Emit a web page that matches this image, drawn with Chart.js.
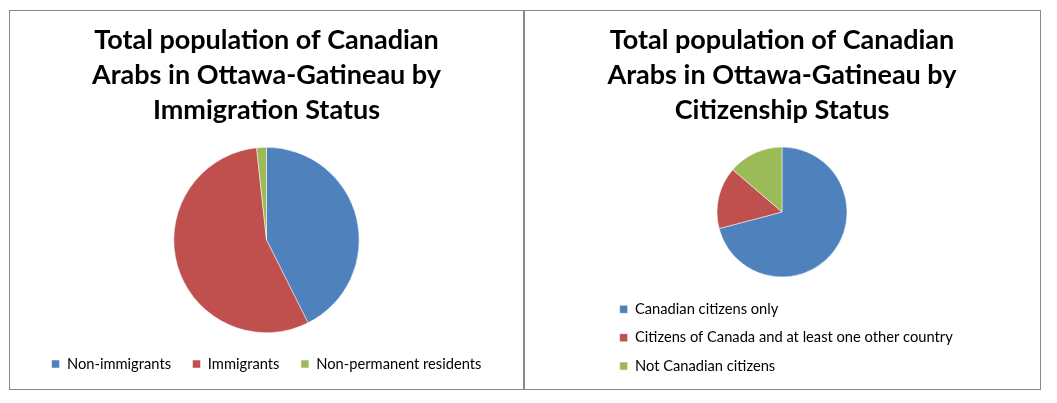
<!DOCTYPE html>
<html>
<head>
<meta charset="utf-8">
<title>Canadian Arabs in Ottawa-Gatineau</title>
<script src="https://cdn.jsdelivr.net/npm/chart.js@4.4.0/dist/chart.umd.min.js"></script>
<style>
  html, body { margin: 0; padding: 0; background: #fff; }
  .box {
    position: absolute;
    top: 10px;
    height: 378px;
    border: 1px solid #888;
  }
  #leftBox { left: 9px; width: 513px; }
  #rightBox { left: 524px; width: 515px; }
  canvas { display: block; }
</style>
</head>
<body>
<div class="box" id="leftBox"><canvas id="immigrationChart" width="513" height="378"></canvas></div>
<div class="box" id="rightBox"><canvas id="citizenshipChart" width="515" height="378"></canvas></div>
<script>
// Dados: estatuto de imigração
const immigrationLabels = ['Non-immigrants', 'Immigrants', 'Non-permanent residents'];
const immigrationValues = [42.6, 55.7, 1.7];

// Dados: cidadania
const citizenshipLabels = ['Canadian citizens only', 'Citizens of Canada and at least one other country', 'Not Canadian citizens'];
const citizenshipValues = [70.9, 15.4, 13.7];

const immigrationTitle = ['Total population of Canadian', 'Arabs in Ottawa-Gatineau by', 'Immigration Status'];
const citizenshipTitle = ['Total population of Canadian', 'Arabs in Ottawa-Gatineau by', 'Citizenship Status'];

const sliceColors = ['#4F81BD', '#C0504D', '#9BBB59'];

Chart.defaults.font.family = 'Lato, "Open Sans", sans-serif';
Chart.defaults.color = '#000';
Chart.defaults.animation = false;

function titleOptions(text, bottom) {
    return {
        display: true,
        text: text,
        color: '#000',
        font: { size: 27, weight: 'bold', lineHeight: 1.3 },
        padding: { top: 12, bottom: bottom }
    };
}

// Gráfico da esquerda
const immigrationConfig = {
    type: 'pie',
    data: {
        labels: immigrationLabels,
        datasets: [{
            data: immigrationValues,
            backgroundColor: sliceColors,
            borderColor: '#fff',
            borderWidth: 0.5,
            hoverOffset: 0,
            radius: 92.7
        }]
    },
    options: {
        responsive: false,
        layout: { padding: { top: 0, bottom: 7.6, left: 0, right: 0 } },
        plugins: {
            title: titleOptions(immigrationTitle, 16.5),
            tooltip: { enabled: false },
            legend: {
                position: 'bottom',
                labels: {
                    boxWidth: 8,
                    boxHeight: 8,
                    padding: 21.5,
                    font: { size: 14.7 }
                }
            }
        }
    }
};

// Gráfico da direita
const citizenshipConfig = {
    type: 'pie',
    data: {
        labels: citizenshipLabels,
        datasets: [{
            data: citizenshipValues,
            backgroundColor: sliceColors,
            borderColor: '#fff',
            borderWidth: 0.5,
            hoverOffset: 0,
            radius: 65
        }]
    },
    options: {
        responsive: false,
        layout: { padding: { top: 0, bottom: 5.6, left: 81, right: 82 } },
        plugins: {
            title: titleOptions(citizenshipTitle, 7.4),
            tooltip: { enabled: false },
            legend: {
                position: 'bottom',
                align: 'start',
                labels: {
                    boxWidth: 8,
                    boxHeight: 8,
                    padding: 13.65,
                    font: { size: 14.7 }
                }
            }
        }
    }
};

window.onload = function() {
    new Chart(document.getElementById('immigrationChart').getContext('2d'), immigrationConfig);
    new Chart(document.getElementById('citizenshipChart').getContext('2d'), citizenshipConfig);
};
</script>
</body>
</html>
